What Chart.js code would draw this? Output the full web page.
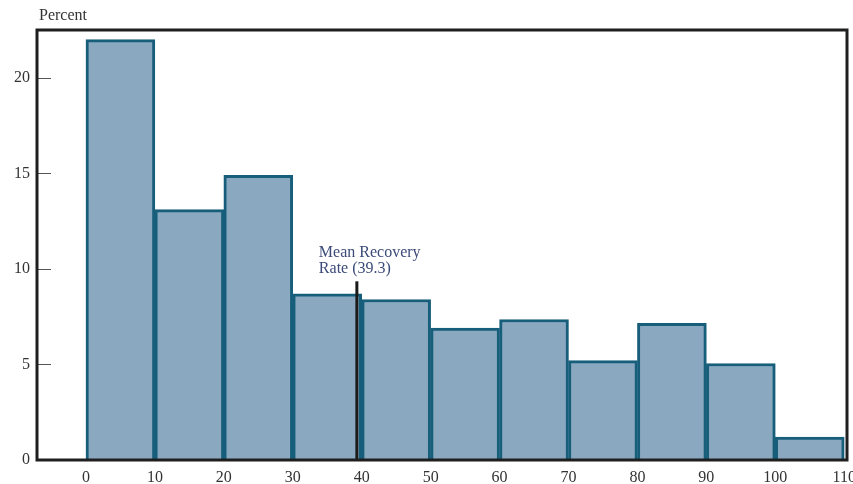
<!DOCTYPE html>
<html>
<head>
<meta charset="utf-8">
<script src="https://cdn.jsdelivr.net/npm/chart.js@4"></script>
<style>
  html, body { margin: 0; padding: 0; background: #fff; }
  #wrap { width: 853px; height: 484px; position: relative; }
</style>
</head>
<body>
<div id="wrap"><canvas id="chart"></canvas></div>
<script>
// histogram bins (recovery rate, %) and share of observations
const binStarts = [0, 10, 20, 30, 40, 50, 60, 70, 80, 90, 100];
const binWidth = 10;
const percents = [22.0, 13.1, 14.9, 8.7, 8.4, 6.9, 7.35, 5.2, 7.15, 5.05, 1.2];
const xTicks = [0, 10, 20, 30, 40, 50, 60, 70, 80, 90, 100, 110];
const yTicks = [0, 5, 10, 15, 20];
const meanRate = 39.3;
const meanLineTop = 9.35;
const meanLabel = ["Mean Recovery", "Rate (39.3)"];

const serif = "'Liberation Serif', 'DejaVu Serif', serif";

// frame, inward y ticks, mean line and label
const extras = {
  id: "extras",
  afterDatasetsDraw(chart) {
    const ctx = chart.ctx;
    const a = chart.chartArea;
    const x = chart.scales.x, y = chart.scales.y;
    ctx.save();

    // mean line
    const mx = x.getPixelForValue(meanRate);
    ctx.strokeStyle = "#1a1a1a";
    ctx.lineWidth = 3;
    ctx.beginPath();
    ctx.moveTo(mx, y.getPixelForValue(0));
    ctx.lineTo(mx, y.getPixelForValue(meanLineTop));
    ctx.stroke();

    ctx.fillStyle = "#3b4a78";
    ctx.font = "16px " + serif;
    ctx.textAlign = "left";
    ctx.textBaseline = "alphabetic";
    ctx.fillText(meanLabel[0], mx - 38, y.getPixelForValue(meanLineTop) - 24);
    ctx.fillText(meanLabel[1], mx - 38, y.getPixelForValue(meanLineTop) - 8);

    // inward ticks on y axis
    ctx.strokeStyle = "#555";
    ctx.lineWidth = 1;
    yTicks.forEach(v => {
      if (v === 0) return;
      const py = Math.round(y.getPixelForValue(v)) + 0.5;
      ctx.beginPath();
      ctx.moveTo(a.left, py);
      ctx.lineTo(a.left + 14, py);
      ctx.stroke();
    });

    // frame
    ctx.strokeStyle = "#1f1f1f";
    ctx.lineWidth = 3;
    ctx.strokeRect(a.left, a.top, a.right - a.left, a.bottom - a.top);

    // axis title
    ctx.fillStyle = "#333";
    ctx.font = "16px " + serif;
    ctx.fillText("Percent", a.left + 2, a.top - 10);
    ctx.restore();
  }
};

new Chart(document.getElementById("chart"), {
  type: "bar",
  data: {
    datasets: [{
      data: binStarts.map((s, i) => ({ x: s + binWidth / 2, y: percents[i] })),
      backgroundColor: "#8aa8bf",
      borderColor: "#175e7b",
      borderWidth: 3,
      borderSkipped: "bottom",
      barPercentage: 1,
      categoryPercentage: 1
    }]
  },
  options: {
    responsive: true,
    maintainAspectRatio: false,
    animation: false,
    layout: { padding: { top: 30, right: 6, left: 0, bottom: 0 } },
    plugins: { legend: { display: false }, tooltip: { enabled: false } },
    scales: {
      x: {
        type: "linear",
        offset: false,
        min: -7.1,
        max: 110.4,
        afterBuildTicks: s => { s.ticks = xTicks.map(v => ({ value: v })); },
        afterFit: s => { s.height = 24; s.paddingLeft = 0; s.paddingRight = 0; },
        grid: { display: false, drawTicks: false, offset: false },
        border: { display: false },
        ticks: { color: "#333", font: { family: serif, size: 16 }, padding: 8, maxRotation: 0 }
      },
      y: {
        min: 0,
        max: 22.5,
        afterBuildTicks: s => { s.ticks = yTicks.map(v => ({ value: v })); },
        afterFit: s => { s.width = 37; s.paddingTop = 0; s.paddingBottom = 0; },
        grid: { display: false, drawTicks: false },
        border: { display: false },
        ticks: { color: "#333", font: { family: serif, size: 16 }, padding: 7 }
      }
    }
  },
  plugins: [extras]
});
</script>
</body>
</html>
